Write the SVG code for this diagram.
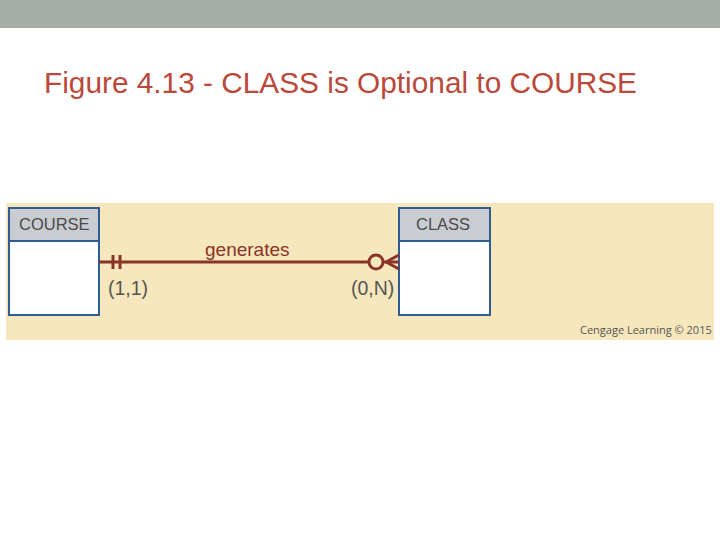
<svg xmlns="http://www.w3.org/2000/svg" width="720" height="540" viewBox="0 0 720 540">
<style>
.ent{fill:#ffffff;stroke:#2f5b96;stroke-width:2}
.hdr{fill:#c9ccd1;stroke:#2f5b96;stroke-width:2}
.etext{font-family:"Liberation Sans",Arial,sans-serif;font-size:16.5px;fill:#4a4a4a}
.rel{stroke:#8a3328;stroke-width:3;fill:none}
.card{font-family:"Liberation Sans",Arial,sans-serif;font-size:19.5px;fill:#555555}
</style>
<rect x="0" y="0" width="720" height="540" fill="#ffffff"/>
<rect x="0" y="0" width="720" height="28" fill="#a4afa7"/>
<text x="44" y="93" font-family="'Liberation Sans',Arial,sans-serif" font-size="29" fill="#b9493b" textLength="593" lengthAdjust="spacingAndGlyphs">Figure 4.13 - CLASS is Optional to COURSE</text>
<rect x="6" y="203" width="708" height="137" fill="#f6e7bc"/>
<g id="course">
<rect class="ent" x="9" y="208" width="90" height="107"/>
<rect class="hdr" x="9" y="208" width="90" height="33"/>
<text class="etext" x="19" y="230">COURSE</text>
</g>
<g id="class">
<rect class="ent" x="399" y="208" width="91" height="107"/>
<rect class="hdr" x="399" y="208" width="91" height="33"/>
<text class="etext" x="416" y="230">CLASS</text>
</g>
<g id="connectors">
<line class="rel" x1="99" y1="262" x2="369" y2="262"/>
<line class="rel" x1="113" y1="255" x2="113" y2="269"/>
<line class="rel" x1="120" y1="255" x2="120" y2="269"/>
<circle class="rel" cx="376" cy="262" r="7"/>
<line class="rel" x1="383" y1="262" x2="399" y2="262"/>
<line class="rel" x1="386" y1="262" x2="399" y2="255"/>
<line class="rel" x1="386" y1="262" x2="399" y2="269"/>
<text x="205" y="256" font-family="'Liberation Sans',Arial,sans-serif" font-size="19" fill="#8a3328">generates</text>
<text class="card" x="108" y="295">(1,1)</text>
<text class="card" x="351" y="295">(0,N)</text>
</g>
<text x="580" y="334" font-family="'Open Sans',Lato,sans-serif" font-size="11" fill="#555555">Cengage Learning © 2015</text>
</svg>
